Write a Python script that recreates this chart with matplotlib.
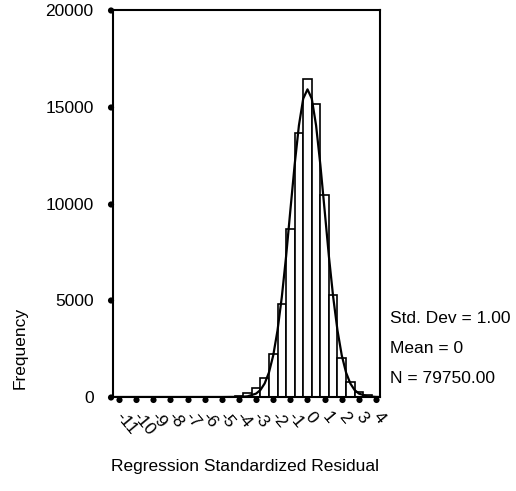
import numpy as np
import matplotlib
matplotlib.use("Agg")
import matplotlib.pyplot as plt
from matplotlib.path import Path

plt.rcParams['font.family'] = ['Liberation Sans', 'DejaVu Sans']

# histogram of standardized residuals (bin width 0.5)
bin_centers = [-4.0, -3.5, -3.0, -2.5, -2.0, -1.5, -1.0, -0.5,
               0.0, 0.5, 1.0, 1.5, 2.0, 2.5, 3.0, 3.5]
counts = [40, 190, 450, 1000, 2240, 4800, 8660, 13650,
          16450, 15150, 10440, 5270, 2000, 790, 270, 80]
bin_width = 0.5

# fitted normal curve
curve_x = [-11.3, -5.0, -4.5, -4.0, -3.5, -3.0, -2.75, -2.5, -2.25, -2.0, -1.75,
           -1.5, -1.25, -1.0, -0.75, -0.5, -0.25, 0.0, 0.25, 0.5, 0.75,
           1.0, 1.25, 1.5, 1.75, 2.0, 2.25, 2.5, 2.75, 3.0, 3.5, 4.0, 4.2]
curve_y = [0, 0, 5, 5, 35, 177, 360, 700, 1265, 2150, 3440,
           5160, 7260, 9650, 12000, 14040, 15420, 15900, 15420, 14040, 12000,
           9650, 7260, 5160, 3440, 2150, 1265, 700, 360, 177, 35, 5, 0]

xticks = list(range(-11, 5))
xlabels = ['-' + str(-v) if v < 0 else str(v) for v in xticks]
yticks = [0, 5000, 10000, 15000, 20000]
stats = ['Std. Dev = 1.00', 'Mean = 0', 'N = 79750.00']

fs = 12.5

fig = plt.figure(figsize=(5.16, 4.91), dpi=100)
ax = fig.add_axes([0.219, 0.1914, 0.5174, 0.7882])

ax.bar(bin_centers, counts, width=bin_width, color='white',
       edgecolor='black', linewidth=1.2, zorder=2)
ax.plot(curve_x, curve_y, color='black', linewidth=1.6, zorder=3)

ax.set_xlim(-11.35, 4.23)
ax.set_ylim(0, 20000)
for s in ax.spines.values():
    s.set_linewidth(1.5)

ax.set_yticks(yticks)
ax.set_yticklabels([str(v) for v in yticks], fontsize=fs)
ax.set_xticks(xticks)
ax.set_xticklabels(xlabels, fontsize=fs, rotation=-50,
                   ha='left', va='center', rotation_mode='anchor')

# round SPSS-style tick dots, sitting just outside the axis line
circ = Path.unit_circle()
dot_left = Path(circ.vertices + [-0.8, 0.0], circ.codes)
dot_below = Path(circ.vertices + [0.0, -0.8], circ.codes)
ax.tick_params(axis='y', length=4, width=0, pad=10)
ax.tick_params(axis='x', length=4, width=0, pad=8)
for t in ax.yaxis.get_major_ticks():
    t.tick1line.set_marker(dot_left)
    t.tick1line.set_markerfacecolor('black')
    t.tick1line.set_markeredgecolor('black')
    t.tick1line.set_markersize(8)
for t in ax.xaxis.get_major_ticks():
    t.tick1line.set_marker(dot_below)
    t.tick1line.set_markerfacecolor('black')
    t.tick1line.set_markeredgecolor('black')
    t.tick1line.set_markersize(8)

fig.text(0.039, 0.291, 'Frequency', rotation=90, fontsize=fs,
         ha='center', va='center')
fig.text(0.475, 0.049, 'Regression Standardized Residual', fontsize=fs,
         ha='center', va='center')
for i, s in enumerate(stats):
    fig.text(0.756, 0.352 - i * 0.061, s, fontsize=fs, ha='left', va='center')

fig.savefig('out.png', dpi=100)
